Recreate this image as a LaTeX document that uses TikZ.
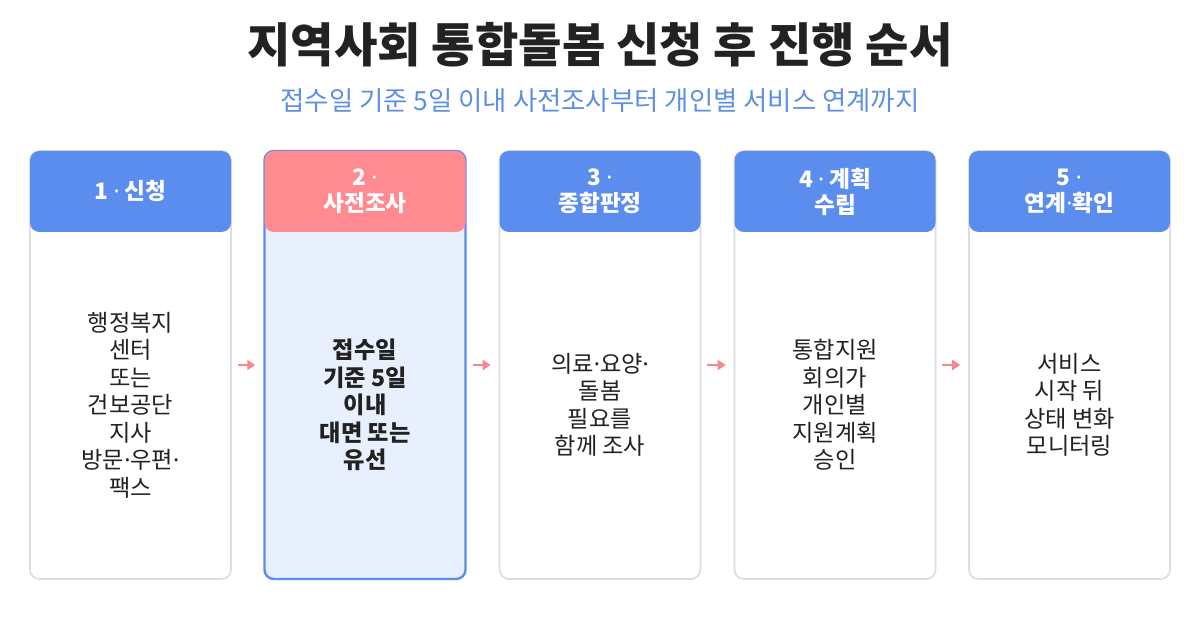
\documentclass[tikz,border=0pt]{standalone}
\usepackage{fontspec}
\setmainfont{Noto Sans CJK KR}
\newfontfamily\dotfont{Noto Sans}
\newcommand\mdot{{\dotfont ·}}
\usetikzlibrary{arrows.meta}
\definecolor{hblue}{HTML}{5B8DEF}
\definecolor{hpink}{HTML}{FF8A90}
\definecolor{lightbg}{HTML}{E8F0FE}
\definecolor{cardline}{HTML}{DDDDDD}
\definecolor{ink}{HTML}{222222}
\definecolor{subc}{HTML}{5E90E2}
\definecolor{arrc}{HTML}{F4888E}
\tikzset{
  card/.style={draw=cardline, line width=1.2pt, fill=white, rounded corners=7pt,
    minimum width=150.75pt, minimum height=321pt, inner sep=0pt},
  activecard/.style={card, draw=hblue, line width=1.8pt, fill=lightbg},
  head/.style={fill=hblue, rounded corners=7pt, minimum width=150.75pt,
    minimum height=60.75pt, inner sep=0pt, text=white, align=center,
    font=\fontsize{17pt}{19.5pt}\selectfont\bfseries},
  activehead/.style={head, fill=hpink},
  body/.style={align=center, text=ink, font=\fontsize{17.4pt}{20.6pt}\selectfont},
  activebody/.style={body, font=\fontsize{17.4pt}{20.6pt}\selectfont\bfseries},
  arr/.style={draw=arrc, fill=arrc, line width=1.8pt, -{Triangle[length=6pt,width=7.5pt]},
    shorten <=4.5pt, shorten >=6pt},
}
\begin{document}
\begin{tikzpicture}[x=0.75pt,y=-0.75pt]
\useasboundingbox[fill=white] (0,0) rectangle (1200,630);
\node[text=ink, font=\fontsize{35.4pt}{40pt}\selectfont\bfseries] (title) at (600,45) {지역사회 통합돌봄 신청 후 진행 순서};
\node[text=subc, font=\fontsize{19.8pt}{24pt}\selectfont] (sub) at (600,101) {접수일 기준 5일 이내 사전조사부터 개인별 서비스 연계까지};

\node[card] (c1) at (130.5,365) {};
\node[activecard] (c2) at (365,365) {};
\node[card] (c3) at (600,365) {};
\node[card] (c4) at (835,365) {};
\node[card] (c5) at (1069.5,365) {};

\node[head] (h1) at (130.5,191.5) {1 \mdot{} 신청};
\node[activehead] (h2) at (365,191.5) {2 \mdot\\사전조사};
\node[head] (h3) at (600,191.5) {3 \mdot\\종합판정};
\node[head] (h4) at (835,191.5) {4 \mdot{} 계획\\수립};
\node[head] (h5) at (1069.5,191.5) {5 \mdot\\연계\mdot 확인};

\node[body] (b1) at (130.5,405) {행정복지\\센터\\또는\\건보공단\\지사\\방문\mdot 우편\mdot\\팩스};
\node[activebody] (b2) at (365,405) {접수일\\기준 5일\\이내\\대면 또는\\유선};
\node[body] (b3) at (600,405) {의료\mdot 요양\mdot\\돌봄\\필요를\\함께 조사};
\node[body] (b4) at (835,405) {통합지원\\회의가\\개인별\\지원계획\\승인};
\node[body] (b5) at (1069.5,405) {서비스\\시작 뒤\\상태 변화\\모니터링};

\draw[arr] (c1) -- (c2);
\draw[arr] (c2) -- (c3);
\draw[arr] (c3) -- (c4);
\draw[arr] (c4) -- (c5);
\end{tikzpicture}
\end{document}
